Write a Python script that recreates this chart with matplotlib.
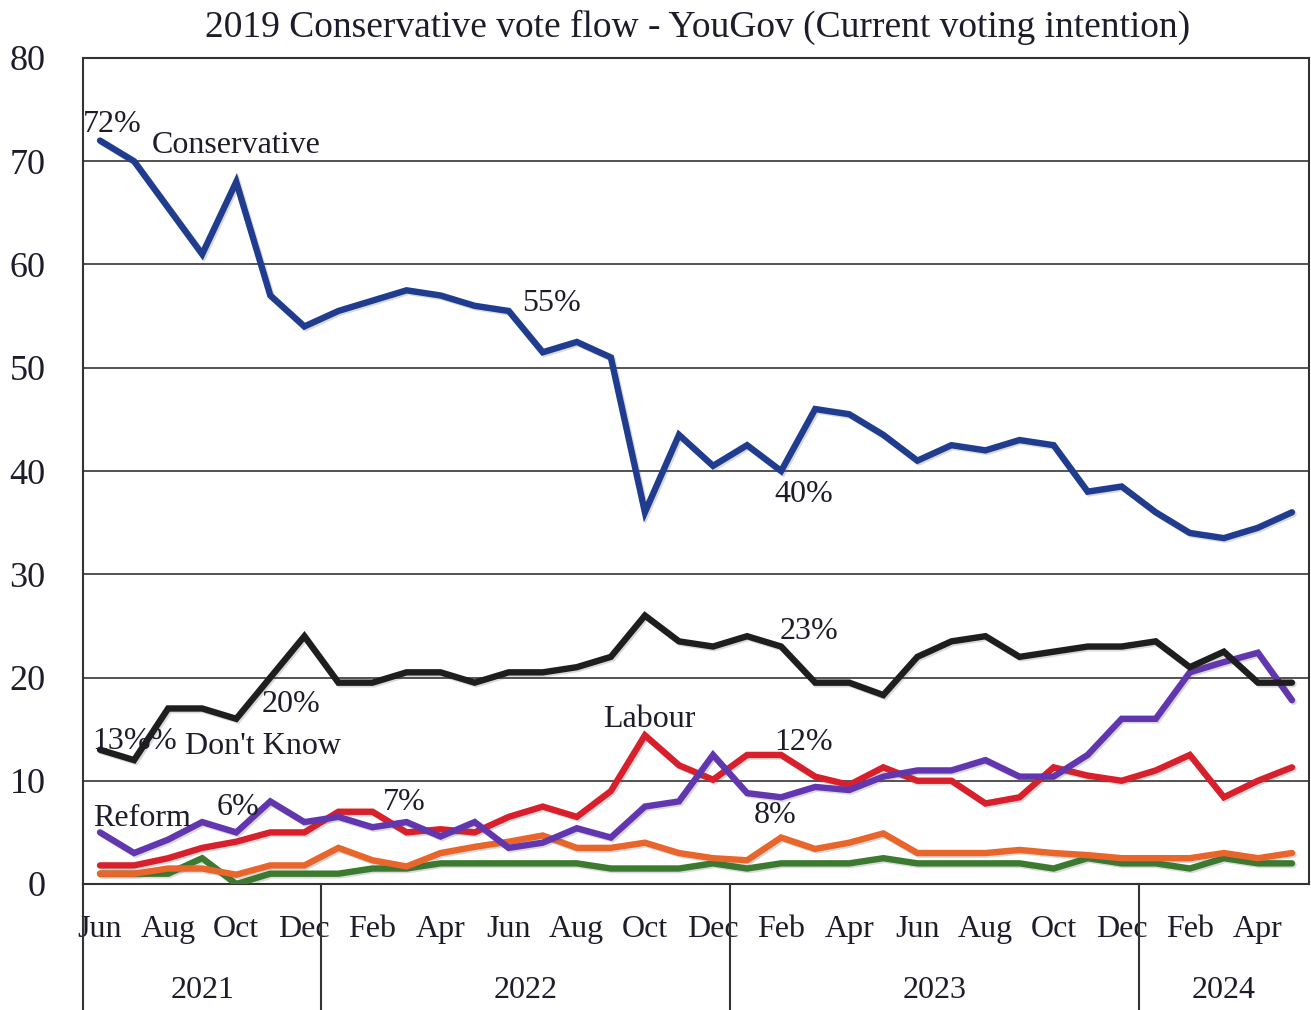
import matplotlib
matplotlib.use('Agg')
import matplotlib.pyplot as plt
import matplotlib.patheffects as pe
from matplotlib.transforms import blended_transform_factory

# ---------------- data ----------------
months = ['Jun', 'Jul', 'Aug', 'Sep', 'Oct', 'Nov', 'Dec',
          'Jan', 'Feb', 'Mar', 'Apr', 'May', 'Jun', 'Jul', 'Aug', 'Sep', 'Oct', 'Nov', 'Dec',
          'Jan', 'Feb', 'Mar', 'Apr', 'May', 'Jun', 'Jul', 'Aug', 'Sep', 'Oct', 'Nov', 'Dec',
          'Jan', 'Feb', 'Mar', 'Apr', 'May']
years = ['2021', '2022', '2023', '2024']
year_counts = [7, 12, 12, 5]

conservative = [72, 70, 65.5, 61, 68, 57, 54, 55.5, 56.5, 57.5, 57, 56,
                55.5, 51.5, 52.5, 51, 36, 43.5, 40.5, 42.5, 40, 46, 45.5, 43.5,
                41, 42.5, 42, 43, 42.5, 38, 38.5, 36, 34, 33.5, 34.5, 36]
dont_know = [13, 12, 17, 17, 16, 20, 24, 19.5, 19.5, 20.5, 20.5, 19.5,
             20.5, 20.5, 21, 22, 26, 23.5, 23, 24, 23, 19.5, 19.5, 18.3,
             22, 23.5, 24, 22, 22.5, 23, 23, 23.5, 21, 22.5, 19.5, 19.5]
reform = [5, 3, 4.3, 6, 5, 8, 6, 6.5, 5.5, 6, 4.6, 6,
          3.5, 4, 5.4, 4.5, 7.5, 8, 12.5, 8.8, 8.4, 9.4, 9.1, 10.4,
          11, 11, 12, 10.4, 10.4, 12.5, 16, 16, 20.5, 21.5, 22.4, 17.8]
labour = [1.8, 1.8, 2.5, 3.5, 4.1, 5, 5, 7, 7, 5, 5.3, 5,
          6.5, 7.5, 6.5, 9, 14.4, 11.5, 10.1, 12.5, 12.5, 10.4, 9.6, 11.3,
          10, 10, 7.8, 8.4, 11.3, 10.5, 10, 11, 12.5, 8.4, 10, 11.3]
libdem = [1, 1, 1.5, 1.5, 0.9, 1.8, 1.8, 3.5, 2.3, 1.7, 3, 3.6,
          4.1, 4.7, 3.5, 3.5, 4, 3, 2.5, 2.3, 4.5, 3.4, 4, 4.9,
          3, 3, 3, 3.3, 3, 2.8, 2.5, 2.5, 2.5, 3, 2.5, 3]
green = [1, 1, 1, 2.5, 0, 1, 1, 1, 1.5, 1.5, 2, 2,
         2, 2, 2, 1.5, 1.5, 1.5, 2, 1.5, 2, 2, 2, 2.5,
         2, 2, 2, 2, 1.5, 2.5, 2, 2, 1.5, 2.5, 2, 2]

y_ticks = [0, 10, 20, 30, 40, 50, 60, 70, 80]

# ---------------- style ----------------
FONT = ['Liberation Serif', 'DejaVu Serif']
plt.rcParams['font.family'] = FONT
TXT = '#1c1c2a'

fig = plt.figure(figsize=(13.11, 10.10), dpi=100)
ax = fig.add_axes([83 / 1311, 1 - 884 / 1010, (1309 - 83) / 1311, (884 - 58) / 1010])

x = list(range(len(months)))
shadow = [pe.SimpleLineShadow(offset=(1.2, -1.2), alpha=0.22, shadow_color='#555555'), pe.Normal()]
series = [
    (green, '#3B7A2F'),
    (libdem, '#E8652B'),
    (labour, '#D7202B'),
    (reform, '#6236AE'),
    (dont_know, '#1E1E1E'),
    (conservative, '#203C8E'),
]
for vals, col in series:
    ax.plot(x, vals, color=col, lw=4.6, solid_joinstyle='miter', solid_capstyle='round',
            path_effects=shadow, zorder=3)

ax.set_xlim(-0.5, len(months) - 0.5)
ax.set_ylim(0, 80)
ax.set_yticks(y_ticks)
ax.set_yticklabels([str(v) for v in y_ticks])
ax.tick_params(axis='y', length=0, pad=27, labelsize=26, labelcolor=TXT)
ax.grid(axis='y', color='#444444', lw=1.3, zorder=1)
ax.set_axisbelow(True)
for s in ax.spines.values():
    s.set_color('#333333')
    s.set_linewidth(1.5)

# month labels every two months
ax.set_xticks(x[::2])
ax.set_xticklabels(months[::2])
ax.tick_params(axis='x', length=0, pad=22, labelsize=23, labelcolor=TXT)

# year row with separators
trans = blended_transform_factory(ax.transData, ax.transAxes)
bottom = -(1010 - 884) / (884 - 58) - 0.01
start = -0.5
ax.plot([start, start], [0, bottom], transform=trans, color='#333333', lw=1.5, clip_on=False)
for yr, n in zip(years, year_counts):
    end = start + n
    if end < len(months) - 0.5:
        ax.plot([end, end], [0, bottom], transform=trans, color='#333333', lw=1.5, clip_on=False)
    ax.text((start + end) / 2, -(990 - 884) / (884 - 58), yr, transform=trans,
            ha='center', va='center', fontsize=23, color=TXT)
    start = end

# title
fig.text(698 / 1311, 1 - 27 / 1010, '2019 Conservative vote flow - YouGov (Current voting intention)',
         ha='center', va='center', fontsize=27, color=TXT)

# annotations
notes = [
    ('72%', -0.5, 73.6), ('Conservative', 1.52, 71.5), ('55%', 12.38, 56.2),
    ('40%', 19.8, 37.7), ('23%', 19.95, 24.5), ('20%', 4.75, 17.4),
    ('13%', -0.24, 13.8), ('%', 1.45, 13.8), ("Don't Know", 2.49, 13.35),
    ('Reform', -0.21, 6.3), ('6%', 3.43, 7.4), ('7%', 8.3, 7.9),
    ('Labour', 14.76, 15.9), ('12%', 19.8, 13.7), ('8%', 19.2, 6.6),
]
for t, xx, yy in notes:
    ax.text(xx, yy, t, ha='left', va='center', fontsize=23, color=TXT, zorder=5)

fig.savefig('out.png', dpi=100, facecolor='white')
